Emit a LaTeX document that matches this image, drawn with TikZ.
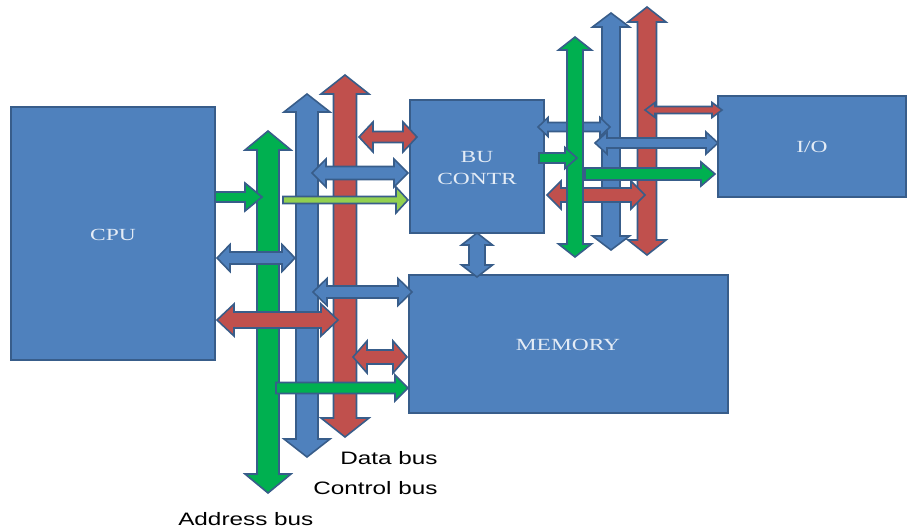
\documentclass[tikz,border=0pt]{standalone}
\usepackage{fontspec}
\setmainfont{Liberation Serif}
\newfontfamily\labsans{Liberation Sans}
\definecolor{bfill}{HTML}{4F81BD}
\definecolor{bline}{HTML}{385D8A}
\definecolor{gfill}{HTML}{00B050}
\definecolor{rfill}{HTML}{C0504D}
\definecolor{lgfill}{HTML}{92D050}
\definecolor{boxtxt}{HTML}{E4ECF6}
\tikzset{
  boxshape/.style={fill=bfill,draw=bline,line width=1.8pt},
  arr/.style={draw=bline,line width=1.6pt,line join=miter},
  boxlabel/.style={text=boxtxt,font=\fontsize{17}{20}\selectfont,xscale=1.38,align=center},
  buslabel/.style={text=black,font=\labsans\fontsize{18}{20}\selectfont,xscale=1.35,anchor=west,inner sep=0pt}
}
% horizontal double arrow: x1 x2 y s h L style
\newcommand{\hdarr}[7]{\path[arr,#7] (#1,#3) -- ({#1+#6},{#3-#5}) -- ({#1+#6},{#3-#4}) -- ({#2-#6},{#3-#4}) -- ({#2-#6},{#3-#5}) -- (#2,#3) -- ({#2-#6},{#3+#5}) -- ({#2-#6},{#3+#4}) -- ({#1+#6},{#3+#4}) -- ({#1+#6},{#3+#5}) -- cycle;}
% horizontal single arrow to the right
\newcommand{\hsarr}[7]{\path[arr,#7] (#1,{#3-#4}) -- ({#2-#6},{#3-#4}) -- ({#2-#6},{#3-#5}) -- (#2,#3) -- ({#2-#6},{#3+#5}) -- ({#2-#6},{#3+#4}) -- (#1,{#3+#4}) -- cycle;}
% vertical double arrow: x y1 y2 s h L style
\newcommand{\vdarr}[7]{\path[arr,#7] (#1,#2) -- ({#1+#5},{#2+#6}) -- ({#1+#4},{#2+#6}) -- ({#1+#4},{#3-#6}) -- ({#1+#5},{#3-#6}) -- (#1,#3) -- ({#1-#5},{#3-#6}) -- ({#1-#4},{#3-#6}) -- ({#1-#4},{#2+#6}) -- ({#1-#5},{#2+#6}) -- cycle;}
\begin{document}
\begin{tikzpicture}[x=1pt,y=-1pt]
\useasboundingbox (0,0) rectangle (907,529);
% boxes
\path[boxshape] (11,107) rectangle (215,360);
\node[boxlabel] (cpu) at (113,235) {CPU};
\path[boxshape] (410,100) rectangle (544,233);
\node[boxlabel] (bu) at (477,168) {BU\\[2pt]CONTR};
\path[boxshape] (718,96) rectangle (906,197);
\node[boxlabel] (io) at (812,147) {I/O};
\path[boxshape] (409,275) rectangle (728,413);
\node[boxlabel] (mem) at (568,345) {MEMORY};
% left vertical buses
\vdarr{268}{131}{493}{11}{23}{19}{fill=gfill}
\vdarr{307}{94}{457}{11}{23}{18}{fill=bfill}
\vdarr{345}{75}{437}{11.5}{24}{19}{fill=rfill}
% left horizontal arrows
\hsarr{215}{262}{197}{5}{14}{17}{fill=gfill}
\hsarr{283}{408}{200}{3.5}{13}{12}{fill=lgfill}
\hdarr{312}{408}{173}{6.5}{14}{14}{fill=bfill}
\hdarr{359}{417}{137}{5.5}{15}{14}{fill=rfill}
\hdarr{217}{295}{258}{6}{13.5}{13}{fill=bfill}
\hdarr{217}{338}{320}{8}{16}{17}{fill=rfill}
\hdarr{313}{412}{292}{6}{13.5}{14}{fill=bfill}
\hdarr{353}{407}{357}{7}{16}{14}{fill=rfill}
\hsarr{276}{408}{388}{5.5}{13}{13}{fill=gfill}
% right vertical buses (blue, red)
\vdarr{611}{13}{250}{9}{18.5}{14}{fill=bfill}
\vdarr{647}{7}{255}{9.5}{19}{15}{fill=rfill}
% right horizontal arrows
\hdarr{538}{610}{127}{4.5}{9.5}{10}{fill=bfill}
\hdarr{645}{722}{110}{3.5}{7.5}{10}{fill=rfill}
\hdarr{595}{718}{143}{5}{11}{12}{fill=bfill}
\hsarr{585}{715}{174}{6}{12}{14}{fill=gfill}
\hdarr{547}{645}{195}{7}{14}{14}{fill=rfill}
% green right bus
\vdarr{575}{37}{257}{8}{16.5}{13}{fill=gfill}
\hsarr{539}{577}{158}{5}{10.5}{12}{fill=gfill}
% BU to memory
\vdarr{477}{233}{277}{8}{15.5}{12}{fill=bfill}
% labels
\node[buslabel] (dbus) at (340,458) {Data bus};
\node[buslabel] (cbus) at (313,488) {Control bus};
\node[buslabel] (abus) at (178,519) {Address bus};
\end{tikzpicture}
\end{document}
